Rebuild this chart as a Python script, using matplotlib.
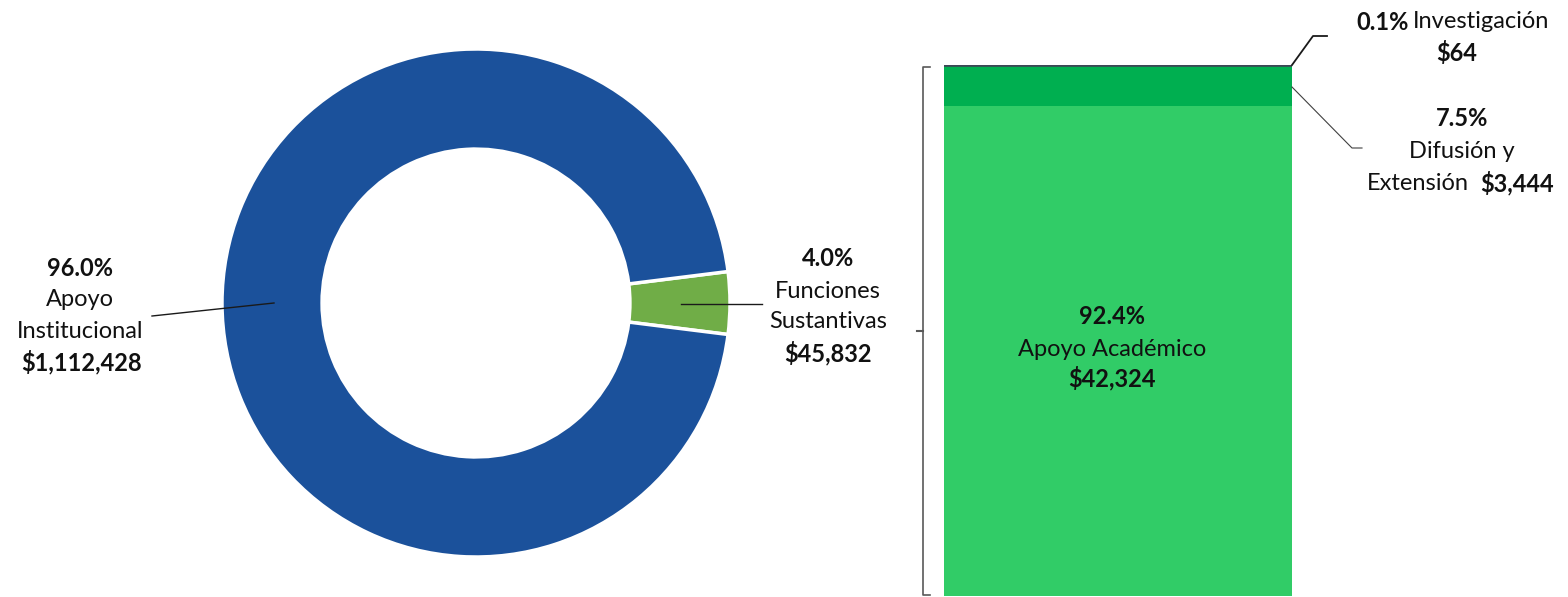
import matplotlib
matplotlib.use("Agg")
import matplotlib.pyplot as plt

plt.rcParams['font.family'] = ['Lato', 'DejaVu Sans']

# ---- data ----
donut_labels = ["Funciones\nSustantivas", "Apoyo\nInstitucional"]
donut_values = [45832, 1112428]
donut_pcts = ["4.0%", "96.0%"]
donut_amounts = ["$45,832", "$1,112,428"]
donut_colors = ["#70AD47", "#1B519B"]

bar_labels = ["Apoyo Académico", "Difusión y Extensión", "Investigación"]
bar_values = [42324, 3444, 64]
bar_pcts = ["92.4%", "7.5%", "0.1%"]
bar_amounts = ["$42,324", "$3,444", "$64"]
bar_colors = ["#31CC67", "#00AF50", "#3D4756"]

W, H = 1568, 597
fig = plt.figure(figsize=(W / 100, H / 100), dpi=100)

def fx(x): return x / W
def fy(y): return 1 - y / H

# donut axes (pixel box 222..730 x 49..557)
ax1 = fig.add_axes([fx(222), fy(557), 508 / W, 508 / H])
half = donut_values[0] / sum(donut_values) * 360 / 2
ax1.pie(donut_values, colors=donut_colors, startangle=-half, counterclock=True,
        radius=1.0, wedgeprops=dict(width=0.394, edgecolor="white", linewidth=2.5))
ax1.set_xlim(-1.0, 1.0)
ax1.set_ylim(-1.0, 1.0)
ax1.set_aspect("equal")
ax1.axis("off")

# stacked bar axes (pixel box 944..1292 x 65..596)
ax2 = fig.add_axes([fx(944), fy(596), (1292 - 944) / W, (596 - 65) / H])
bottom = 0
for v, c in zip(bar_values, bar_colors):
    ax2.bar(0, v, width=1.0, bottom=bottom, color=c, edgecolor=c, linewidth=1.2 if v < 1000 else 0)
    bottom += v
ax2.set_xlim(-0.5, 0.5)
ax2.set_ylim(0, sum(bar_values))
ax2.axis("off")

# overlay axes in pixel coordinates for annotations
ov = fig.add_axes([0, 0, 1, 1])
ov.set_xlim(0, W)
ov.set_ylim(H, 0)
ov.axis("off")
ov.patch.set_alpha(0)

fs = 17
tc = "#111111"

def t(x, y, s, bold=False, ha="center"):
    ov.text(x, y, s, ha=ha, va="center", fontsize=fs, color=tc,
            fontweight="bold" if bold else "normal")

# Apoyo Institucional label
t(80, 268, donut_pcts[1], True)
t(80, 300, "Apoyo")
t(80, 331, "Institucional")
t(82, 362, donut_amounts[1], True)
ov.plot([152, 274], [316, 303], color="#1a1a1a", lw=1)

# Funciones Sustantivas label
t(828, 259, donut_pcts[0], True)
t(828, 291, "Funciones")
t(828, 322, "Sustantivas")
t(828, 353, donut_amounts[0], True)
ov.plot([681, 762], [304, 304], color="#1a1a1a", lw=1)

# bracket
bc = "#595959"
ov.plot([930, 923, 923, 930], [67, 67, 595, 595], color=bc, lw=1.2)
ov.plot([917, 923], [331, 331], color=bc, lw=1.5)

# bar inner label
t(1112, 317, bar_pcts[0], True)
t(1112, 349, bar_labels[0])
t(1112, 378, bar_amounts[0], True)

# Investigación
ov.plot([1292, 1313, 1327], [65, 36, 36], color="#1a1a1a", lw=1.3)
t(1409, 22, bar_pcts[2], True, ha="right")
t(1413, 22, bar_labels[2], ha="left")
t(1457, 53, bar_amounts[2], True)

# Difusión y Extensión
ov.plot([1292, 1352, 1362], [87, 148, 148], color="#404040", lw=0.8)
t(1462, 118, bar_pcts[1], True)
t(1462, 152, "Difusión y")
t(1469, 183, "Extensión", ha="right")
t(1480, 183, bar_amounts[1], True, ha="left")

fig.savefig("out.png", dpi=100, facecolor="white")
